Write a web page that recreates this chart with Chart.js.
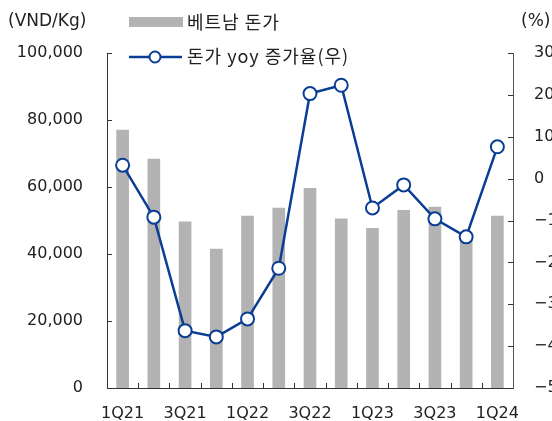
<!DOCTYPE html>
<html>
<head>
<meta charset="utf-8">
<script src="https://cdn.jsdelivr.net/npm/chart.js@4.4.1/dist/chart.umd.min.js"></script>
<style>
  html, body { margin: 0; padding: 0; background: #fff; }
  #wrap { width: 552px; height: 421px; }
</style>
</head>
<body>
<div id="wrap"><canvas id="porkChart" width="552" height="421"></canvas></div>
<script>
// data
const quarters = ['1Q21', '2Q21', '3Q21', '4Q21', '1Q22', '2Q22', '3Q22', '4Q22', '1Q23', '2Q23', '3Q23', '4Q23', '1Q24'];
const porkPrice = [77000, 68300, 49600, 41500, 51300, 53700, 59600, 50500, 47700, 53000, 54000, 44800, 51300];
const priceYoy = [3.2, -9.2, -36.3, -37.8, -33.5, -21.4, 20.3, 22.3, -7.0, -1.5, -9.6, -13.9, 7.6];
const leftTicks = [0, 20000, 40000, 60000, 80000, 100000];
const rightTicks = [-50, -40, -30, -20, -10, 0, 10, 20, 30];

const barColor = '#b3b3b3';
const lineColor = '#0a3d94';
const tickFont = { family: 'DejaVu Sans', size: 16 };
const textColor = '#222';

// ticks drawn pointing into the plot, plus legend and unit labels
const decorations = {
    id: 'decorations',
    afterDraw(chart) {
        const ctx = chart.ctx;
        const area = chart.chartArea;
        const x = chart.scales.x;
        const y = chart.scales.y;
        const y1 = chart.scales.y1;
        ctx.save();
        ctx.lineWidth = 1;
        ctx.strokeStyle = '#333';
        ctx.beginPath();
        leftTicks.forEach(v => {
            const py = Math.round(y.getPixelForValue(v)) + 0.5;
            ctx.moveTo(area.left, py);
            ctx.lineTo(area.left + 5, py);
        });
        rightTicks.forEach(v => {
            const py = Math.round(y1.getPixelForValue(v)) + 0.5;
            ctx.moveTo(area.right, py);
            ctx.lineTo(area.right - 5, py);
        });
        for (let i = 1; i < quarters.length; i++) {
            const px = Math.round((x.getPixelForValue(i - 1) + x.getPixelForValue(i)) / 2) + 0.5;
            ctx.moveTo(px, area.bottom);
            ctx.lineTo(px, area.bottom - 5);
        }
        ctx.stroke();

        // units
        ctx.fillStyle = textColor;
        ctx.font = '17px "DejaVu Sans"';
        ctx.textBaseline = 'middle';
        ctx.textAlign = 'left';
        ctx.fillText('(VND/Kg)', 8, 22);
        ctx.fillText('(%)', 521, 22);

        // legend
        ctx.fillStyle = barColor;
        ctx.fillRect(129, 17, 54, 10);
        ctx.strokeStyle = lineColor;
        ctx.lineWidth = 2.5;
        ctx.beginPath();
        ctx.moveTo(129, 57);
        ctx.lineTo(182, 57);
        ctx.stroke();
        ctx.beginPath();
        ctx.arc(155, 57, 5.5, 0, Math.PI * 2);
        ctx.fillStyle = '#fff';
        ctx.fill();
        ctx.lineWidth = 2;
        ctx.stroke();
        ctx.fillStyle = textColor;
        ctx.font = '18px "Noto Sans CJK KR"';
        ctx.letterSpacing = '1px';
        ctx.fillText('베트남 돈가', 187, 22);
        ctx.fillText('돈가 yoy 증가율(우)', 187, 56);
        ctx.restore();
    }
};

const ctx = document.getElementById('porkChart').getContext('2d');
new Chart(ctx, {
    data: {
        labels: quarters,
        datasets: [
            {
                type: 'line',
                label: '돈가 yoy 증가율(우)',
                data: priceYoy,
                yAxisID: 'y1',
                borderColor: lineColor,
                borderWidth: 2.5,
                pointRadius: 6.5,
                pointBackgroundColor: '#fff',
                pointBorderColor: lineColor,
                pointBorderWidth: 2,
                tension: 0,
                order: 0
            },
            {
                type: 'bar',
                label: '베트남 돈가',
                data: porkPrice,
                yAxisID: 'y',
                backgroundColor: barColor,
                barThickness: 12,
                order: 1
            }
        ]
    },
    options: {
        responsive: false,
        animation: false,
        layout: { padding: { top: 53, left: 0, right: 0, bottom: 0 } },
        plugins: { legend: { display: false }, tooltip: { enabled: false } },
        scales: {
            x: {
                offset: true,
                grid: { display: false },
                border: { display: true, color: '#333', width: 1 },
                ticks: {
                    autoSkip: false,
                    maxRotation: 0,
                    padding: 8,
                    color: textColor,
                    font: tickFont,
                    callback: function (v, i) { return i % 2 === 0 ? quarters[i] : ''; }
                },
                afterFit(scale) { scale.height = 33; }
            },
            y: {
                position: 'left',
                min: 0,
                max: 100000,
                grid: { display: false },
                border: { display: true, color: '#333', width: 1 },
                ticks: {
                    stepSize: 20000,
                    padding: 16,
                    color: textColor,
                    font: tickFont,
                    callback: v => v.toLocaleString('en-US')
                },
                afterFit(scale) { scale.width = 107; }
            },
            y1: {
                position: 'right',
                min: -50,
                max: 30,
                grid: { display: false },
                border: { display: true, color: '#555', width: 1 },
                ticks: {
                    stepSize: 10,
                    padding: 13,
                    color: textColor,
                    font: tickFont,
                    callback: v => v < 0 ? '\u2212' + Math.abs(v) : String(v)
                },
                afterFit(scale) { scale.width = 39; }
            }
        }
    },
    plugins: [decorations]
});
</script>
</body>
</html>
